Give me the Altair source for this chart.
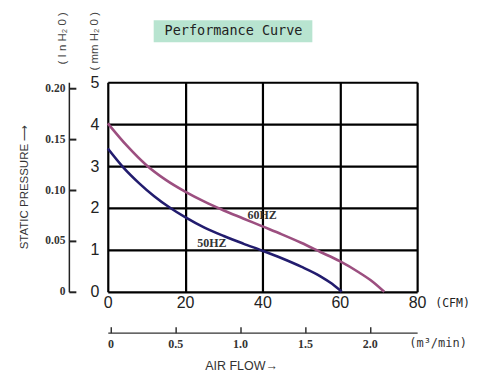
import altair as alt
import pandas as pd

# ---- data ----
cfm_60 = [0, 5, 10, 15, 20, 25, 30, 35, 40, 45, 50, 55, 60, 65, 68.5, 71.5]
mm_60 = [4.02, 3.48, 3.02, 2.67, 2.39, 2.15, 1.94, 1.75, 1.56, 1.37, 1.17, 0.95, 0.73, 0.46, 0.24, 0.0]
cfm_50 = [0, 4, 8, 12, 16, 20, 25, 30, 35, 40, 45, 50, 55, 58, 60.5]
mm_50 = [3.42, 2.97, 2.6, 2.28, 2.01, 1.78, 1.53, 1.33, 1.15, 0.98, 0.8, 0.6, 0.37, 0.19, 0.0]
series_labels = ["60HZ", "50HZ"]
label_cfm = [39.9, 26.9]
label_mm = [1.83, 1.17]
cfm_ticks = [0, 20, 40, 60, 80]
mm_ticks = [0, 1, 2, 3, 4, 5]
m3_ticks = [0, 0.5, 1.0, 1.5, 2.0]
inh2o_ticks = [0, 0.05, 0.10, 0.15, 0.20]

c60 = "#9c4f80"
c50 = "#221c6e"

curves = pd.DataFrame(
    {"cfm": cfm_60 + cfm_50,
     "mm": mm_60 + mm_50,
     "series": ["60HZ"] * len(cfm_60) + ["50HZ"] * len(cfm_50)}
)
labels = pd.DataFrame({"cfm": label_cfm, "mm": label_mm, "t": series_labels})

xs = alt.Scale(domain=[0, 80], nice=False, zero=False)
ys = alt.Scale(domain=[0, 5], nice=False, zero=False)

lines = alt.Chart(curves).mark_line(interpolate="monotone", strokeWidth=2.6).encode(
    x=alt.X("cfm:Q", scale=xs,
            axis=alt.Axis(values=cfm_ticks, title="(CFM)", grid=True, gridColor="black",
                          gridWidth=2.2, gridOpacity=1, ticks=False, domain=False,
                          labelFont="Liberation Sans", labelFontSize=16, labelColor="#222",
                          labelPadding=3, labelFlush=False,
                          titleFont="DejaVu Sans Mono", titleFontSize=11.5, titleFontWeight="normal",
                          titleColor="#222", titleX=345, titleY=12, titleAlign="center",
                          titleBaseline="middle")),
    y=alt.Y("mm:Q", scale=ys,
            axis=alt.Axis(values=mm_ticks, title=None, grid=True, gridColor="black",
                          gridWidth=2.2, gridOpacity=1, ticks=False, domain=False,
                          labelFont="Liberation Sans", labelFontSize=16, labelColor="#222",
                          labelPadding=9, labelFlush=False)),
    color=alt.Color("series:N", scale=alt.Scale(domain=["60HZ", "50HZ"], range=[c60, c50]),
                    legend=None),
)

lbl = alt.Chart(labels).mark_text(font="Liberation Serif", fontWeight="bold", fontSize=12,
                                  color="#333").encode(
    x=alt.X("cfm:Q", scale=xs), y=alt.Y("mm:Q", scale=ys), text="t:N")

main = alt.layer(lines, lbl)

# m3/min axis (independent x)
m3 = alt.Chart(pd.DataFrame({"v": m3_ticks})).mark_point(opacity=0).encode(
    x=alt.X("v:Q", scale=alt.Scale(domain=[-0.02, 2.365], nice=False, zero=False),
            axis=alt.Axis(orient="top", offset=-251, values=m3_ticks, title=None,
                          tickSize=6, tickWidth=1.5, tickColor="#333", domainColor="#333",
                          domainWidth=1.2, labelPadding=-17, labelBaseline="middle",
                          labelFont="Liberation Serif", labelFontWeight="bold", labelFontSize=12,
                          labelColor="#333", labelFlush=False,
                          labelExpr="datum.value == 0 ? '0' : format(datum.value, '.1f')"))
)

# in H2O axis (independent y)
inh = alt.Chart(pd.DataFrame({"v": inh2o_ticks})).mark_point(opacity=0).encode(
    y=alt.Y("v:Q", scale=alt.Scale(domain=[0, 0.206], nice=False, zero=False),
            axis=alt.Axis(orient="right", offset=-349, values=inh2o_ticks, title=None,
                          tickSize=7, tickWidth=2, tickColor="#222", domainColor="#222",
                          domainWidth=1.5, labelPadding=-11, labelAlign="right",
                          labelFont="Liberation Serif", labelFontWeight="bold", labelFontSize=11.5,
                          labelColor="#333", labelFlush=False,
                          labelExpr="datum.value == 0 ? '0' : format(datum.value, '.2f')"))
)

# decorations
title_box = alt.Chart(pd.DataFrame({"a": [1]})).mark_rect(color="#b8e4d0").encode(
    x=alt.value(46), x2=alt.value(205), y=alt.value(-62), y2=alt.value(-40))
title_txt = alt.Chart(pd.DataFrame({"t": ["Performance Curve"]})).mark_text(
    font="DejaVu Sans Mono", fontSize=13.5, color="#222").encode(
    x=alt.value(126), y=alt.value(-51), text="t:N")
sp_txt = alt.Chart(pd.DataFrame({"t": ["STATIC PRESSURE  \u27f6"]})).mark_text(
    font="Liberation Sans", fontSize=11.5, color="#333", angle=270).encode(
    x=alt.value(-83), y=alt.value(105), text="t:N")
in_txt = alt.Chart(pd.DataFrame({"t": ["( I n    H\u2082 0 )"]})).mark_text(
    font="Liberation Sans", fontSize=11.5, color="#444", angle=270).encode(
    x=alt.value(-45), y=alt.value(-44), text="t:N")
mm_txt = alt.Chart(pd.DataFrame({"t": ["( mm  H\u2082 0 )"]})).mark_text(
    font="Liberation Sans", fontSize=11.5, color="#444", angle=270).encode(
    x=alt.value(-13), y=alt.value(-41), text="t:N")
af_txt = alt.Chart(pd.DataFrame({"t": ["AIR FLOW\u2192"]})).mark_text(
    font="Liberation Sans", fontSize=12.5, color="#333").encode(
    x=alt.value(134), y=alt.value(284), text="t:N")
m3_txt = alt.Chart(pd.DataFrame({"t": ["(m\u00b3/min)"]})).mark_text(
    font="DejaVu Sans Mono", fontSize=12, color="#333").encode(
    x=alt.value(331), y=alt.value(261), text="t:N")

chart = alt.layer(
    main, m3, inh, title_box, title_txt, sp_txt, in_txt, mm_txt, af_txt, m3_txt
).resolve_scale(x="independent", y="independent").properties(
    width=310, height=210,
    autosize=alt.AutoSizeParams(type="none"),
    padding={"left": 100, "top": 74, "right": 60, "bottom": 87},
).configure_view(stroke="black", strokeWidth=2.6).configure(background="white")

chart.save("out.html", embed_options={"renderer": "svg", "actions": False})
